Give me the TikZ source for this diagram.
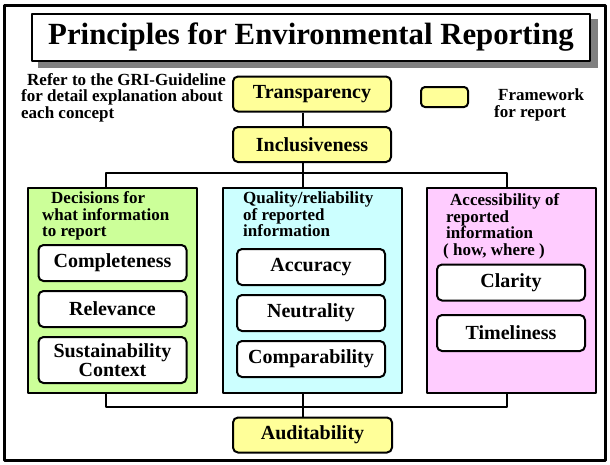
\documentclass[tikz,border=0pt]{standalone}
\usepackage{fontspec}
\setmainfont{Liberation Serif}
\usetikzlibrary{backgrounds}
\definecolor{fwyellow}{HTML}{FFFF99}
\definecolor{decgreen}{HTML}{CCFF99}
\definecolor{qualcyan}{HTML}{CCFFFF}
\definecolor{accpink}{HTML}{FFCCFF}
\begin{document}
\begin{tikzpicture}[x=1pt, y=-1pt, line join=round,
	principle/.style={draw, line width=2pt, rounded corners=5pt, fill=white,
		minimum width=148pt, minimum height=36pt, inner sep=0pt, align=center,
		font=\bfseries\fontsize{20}{19.5}\selectfont},
	framework/.style={principle, fill=fwyellow, minimum width=158pt, minimum height=35pt},
	group/.style={draw, line width=2pt, inner sep=0pt, minimum width=169pt, minimum height=205pt},
	note/.style={anchor=base west, inner sep=0pt, align=left,
		font=\bfseries\fontsize{17}{16.5}\selectfont},
	link/.style={line width=2pt}]
	\useasboundingbox (0,0) rectangle (610,464);
	\draw[line width=3pt] (4.5,5.5) rectangle (605,460.5);
	% title
	\node[draw, line width=2pt, fill=white, minimum width=558pt, minimum height=47pt,
	font=\bfseries\fontsize{30.8}{30}\selectfont] (title) at (311,37.5)
	{Principles for Environmental Reporting};
	\begin{scope}[on background layer]
	\fill[gray] ([shift={(7,6)}]title.north west) rectangle ([shift={(7,6)}]title.south east);
	\end{scope}
	\node[note] (guide) at (21,118)
	{\hspace*{6pt}Refer to the GRI-Guideline\\for detail explanation about\\each concept};
	\node[framework, minimum width=47pt, minimum height=20pt, rounded corners=4pt] (key) at (444.5,97) {};
	\node[note] (keytext) at (494,117) {\hspace*{4pt}Framework\\for report};
	% framework principles
	\node[framework] (transp) at (312,94) {Transparency};
	\node[framework] (incl) at (312,144.5) {Inclusiveness};
	\node[framework, minimum width=159pt] (audit) at (312.5,435) {Auditability};
	% groups
	\node[group, fill=decgreen] (decide) at (112.5,290.5) {};
	\node[group, fill=qualcyan, minimum width=179pt] (qual) at (312.5,290.5) {};
	\node[group, fill=accpink] (access) at (511.5,290.5) {};
	\node[note] (decidehead) at (42,236.5)
	{\hspace*{9pt}Decisions for\\what information\\to report};
	\node[note] (qualhead) at (243,236.5)
	{Quality/reliability\\of reported\\information};
	\node[note] (accesshead) at (446,255)
	{\hspace*{4pt}Accessibility of\\reported\\information\\\hspace*{-3pt}( how, where )};
	\foreach \n/\x/\y/\t in {compl/112.5/263/Completeness, relev/112.5/309/Relevance,
		accur/311/267/Accuracy, neutr/311/313/Neutrality, compa/311/359/Comparability,
		clar/511/282.5/Clarity, timel/511/333/Timeliness}
	\node[principle] (\n) at (\x,\y) {\t};
	\node[principle, minimum height=46pt] (susta) at (112.5,360) {Sustainability\\Context};
	% connectors
	\path (303,0) coordinate (spine) (106,0) coordinate (lx) (507,0) coordinate (rx)
	(0,173) coordinate (busT) (0,407) coordinate (busB);
	\draw[link] (transp.south -| spine) -- (incl.north -| spine);
	\draw[link] (incl.south -| spine) -- (qual.north -| spine);
	\draw[link] (decide.north -| lx) |- (busT -| rx) -- (access.north -| rx);
	\draw[link] (decide.south -| lx) |- (busB -| rx) -- (access.south -| rx);
	\draw[link] (qual.south -| spine) -- (audit.north -| spine);
\end{tikzpicture}
\end{document}
